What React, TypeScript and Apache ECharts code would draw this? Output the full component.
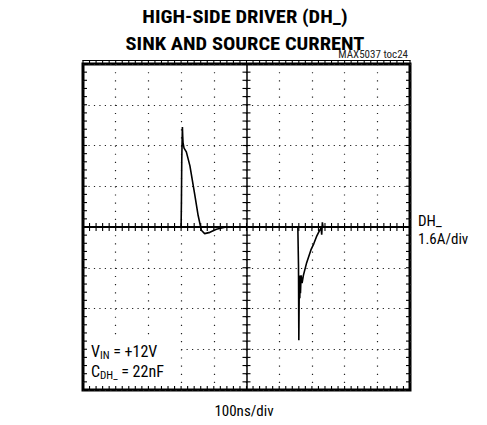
import React, { useEffect, useRef } from "react";
import * as echarts from "echarts";

// Time (ns) and current (A) of the DH_ trace
const timesNs = [0, 300, 301, 302, 303, 304, 305, 306, 309, 316, 327, 342, 352, 362, 372, 388, 408, 437,
  657, 659, 660, 661, 662, 663, 664, 665, 667, 670, 674, 684, 697, 706, 714, 722, 728, 730, 732, 734, 1000];
const currentsA = [0, 0, 1.0, 2.6, 3.3, 3.93, 3.55, 3.3, 3.1, 2.95, 2.4, 1.25, 0.46, -0.13, -0.26, -0.21, -0.09, 0,
  0, -1.5, -4.45, -2.9, -2.0, -2.8, -1.9, -2.6, -1.9, -2.2, -1.9, -1.4, -0.9, -0.65, -0.38, -0.17, -0.03, -0.3, 0.18, 0, 0];

const xMin = 0, xMax = 1000, xStep = 100;   // 100ns/div
const yMin = -6.4, yMax = 6.4, yStep = 1.6; // 1.6A/div

// graticule minor-tick positions (5 per division)
const xMinorTicks = [0, 20, 40, 60, 80, 100, 120, 140, 160, 180, 200, 220, 240, 260, 280, 300, 320, 340, 360, 380,
  400, 420, 440, 460, 480, 500, 520, 540, 560, 580, 600, 620, 640, 660, 680, 700, 720, 740, 760, 780,
  800, 820, 840, 860, 880, 900, 920, 940, 960, 980, 1000];
const yMinorTicks = [-6.4, -6.08, -5.76, -5.44, -5.12, -4.8, -4.48, -4.16, -3.84, -3.52, -3.2, -2.88, -2.56, -2.24,
  -1.92, -1.6, -1.28, -0.96, -0.64, -0.32, 0, 0.32, 0.64, 0.96, 1.28, 1.6, 1.92, 2.24, 2.56, 2.88, 3.2, 3.52,
  3.84, 4.16, 4.48, 4.8, 5.12, 5.44, 5.76, 6.08, 6.4];

const titleLines = ["HIGH-SIDE DRIVER (DH_)", "SINK AND SOURCE CURRENT"];
const figId = "MAX5037 toc24";
const xLabel = "100ns/div";
const chLabel = ["DH_", "1.6A/div"];

const NARROW = "'Liberation Sans Narrow', 'Arial Narrow', 'Roboto Condensed', sans-serif";

export default function App() {
  const ref = useRef<HTMLDivElement>(null);
  useEffect(() => {
    if (!ref.current) return;
    const chart = echarts.init(ref.current, null, { renderer: "svg" });
    const G = { left: 83, top: 64, width: 327, height: 326 };
    const data = timesNs.map((t, i) => [t, currentsA[i]]);
    const xCenter = (xMin + xMax) / 2;
    const tickStyle = { stroke: "#000", lineWidth: 1.1 };
    const ln = (x1: number, y1: number, x2: number, y2: number) => ({
      type: "line", shape: { x1, y1, x2, y2 }, style: tickStyle,
    });

    const xBase = { type: "value", min: xMin, max: xMax, interval: xStep, axisLabel: { show: false }, axisTick: { show: false } };
    const yBase = { type: "value", min: yMin, max: yMax, interval: yStep, axisLabel: { show: false }, axisTick: { show: false } };

    chart.setOption({
      animation: false,
      backgroundColor: "#fff",
      grid: { left: G.left, top: G.top, width: G.width, height: G.height, show: true, borderColor: "#000", borderWidth: 3 },
      xAxis: [
        {
          ...xBase, position: "bottom", axisLine: { show: false, onZero: false },
          splitLine: { show: true, lineStyle: { color: "#222", width: 1.2, type: [1.2, 6.95] } },
        },
        {
          ...xBase, position: "bottom", splitLine: { show: false },
          axisLine: { show: true, onZero: true, onZeroAxisIndex: 0, lineStyle: { color: "#000", width: 2 } },
        },
        {
          ...xBase, position: "top", offset: 3.5, splitLine: { show: false },
          axisLine: { show: true, onZero: false, lineStyle: { color: "#000", width: 1 } },
        },
      ],
      yAxis: [
        {
          ...yBase, position: "left", axisLine: { show: false, onZero: false },
          splitLine: { show: true, lineStyle: { color: "#222", width: 1.2, type: [1.2, 4.25] } },
        },
        {
          ...yBase, position: "left", offset: -G.width / 2, splitLine: { show: false },
          axisLine: { show: true, onZero: false, lineStyle: { color: "#000", width: 1.5 } },
        },
      ],
      series: [
        {
          type: "custom",
          xAxisIndex: 0,
          yAxisIndex: 0,
          clip: false,
          silent: true,
          z: 6,
          data: xMinorTicks.map((v) => [v, 0]),
          renderItem: (params: any, api: any) => {
            const v = api.value(0);
            const [px, yc] = api.coord([v, 0]);
            const yt = api.coord([v, yMax])[1];
            const yb = api.coord([v, yMin])[1];
            return {
              type: "group",
              children: [ln(px, yc - 4, px, yc + 4), ln(px, yb, px, yb - 4), ln(px, yt, px, yt - 4)],
            };
          },
        },
        {
          type: "custom",
          xAxisIndex: 0,
          yAxisIndex: 0,
          clip: false,
          silent: true,
          z: 6,
          data: yMinorTicks.map((v) => [xCenter, v]),
          renderItem: (params: any, api: any) => {
            const v = api.value(1);
            const [xc, py] = api.coord([xCenter, v]);
            const xl = api.coord([xMin, v])[0];
            const xr = api.coord([xMax, v])[0];
            return {
              type: "group",
              children: [ln(xc - 4, py, xc + 4, py), ln(xl, py, xl + 4, py), ln(xr, py, xr - 4, py)],
            };
          },
        },
        {
          type: "line",
          xAxisIndex: 0,
          yAxisIndex: 0,
          data,
          showSymbol: false,
          symbol: "none",
          lineStyle: { color: "#000", width: 1.6 },
          z: 5,
        },
      ],
      graphic: [
        {
          type: "rect", z: 1, silent: true,
          shape: { x: 85, y: 340, width: 95, height: 48 },
          style: { fill: "#fff" },
        },
        {
          type: "text", x: 245, y: 17, scaleX: 1.14, z: 10,
          style: {
            text: titleLines[0], fontFamily: NARROW, fontWeight: "bold", fontSize: 18, fill: "#000",
            align: "center", verticalAlign: "middle",
          },
        },
        {
          type: "text", x: 245, y: 44, scaleX: 1.14, z: 10,
          style: {
            text: titleLines[1], fontFamily: NARROW, fontWeight: "bold", fontSize: 18, fill: "#000",
            align: "center", verticalAlign: "middle",
          },
        },
        {
          type: "text", x: 408, y: 54, z: 10,
          style: { text: figId, fontFamily: NARROW, fontSize: 11, fill: "#222", align: "right", verticalAlign: "middle" },
        },
        {
          type: "text", x: 418, y: 212, z: 10,
          style: { text: chLabel.join("\n"), fontFamily: NARROW, fontSize: 15, lineHeight: 18, fill: "#000" },
        },
        {
          type: "text", x: 244, y: 411, z: 10,
          style: { text: xLabel, fontFamily: NARROW, fontSize: 15, fill: "#000", align: "center", verticalAlign: "middle" },
        },
        {
          type: "text", x: 91, y: 343, z: 10,
          style: {
            text: "{m|V}{s|IN}{m| = +12V}",
            fill: "#000",
            rich: {
              m: { fontFamily: NARROW, fontSize: 16, lineHeight: 16, verticalAlign: "top", fill: "#000" },
              s: { fontFamily: NARROW, fontSize: 11, lineHeight: 11, padding: [7, 0, 0, 0], verticalAlign: "top", fill: "#000" },
            },
          },
        },
        {
          type: "text", x: 91, y: 363, z: 10,
          style: {
            text: "{m|C}{s|DH_}{m| = 22nF}",
            fill: "#000",
            rich: {
              m: { fontFamily: NARROW, fontSize: 16, lineHeight: 16, verticalAlign: "top", fill: "#000" },
              s: { fontFamily: NARROW, fontSize: 11, lineHeight: 11, padding: [7, 0, 0, 0], verticalAlign: "top", fill: "#000" },
            },
          },
        },
      ],
    });
    return () => chart.dispose();
  }, []);
  return <div ref={ref} style={{ position: "fixed", left: 0, top: 0, width: 487, height: 425 }} />;
}
